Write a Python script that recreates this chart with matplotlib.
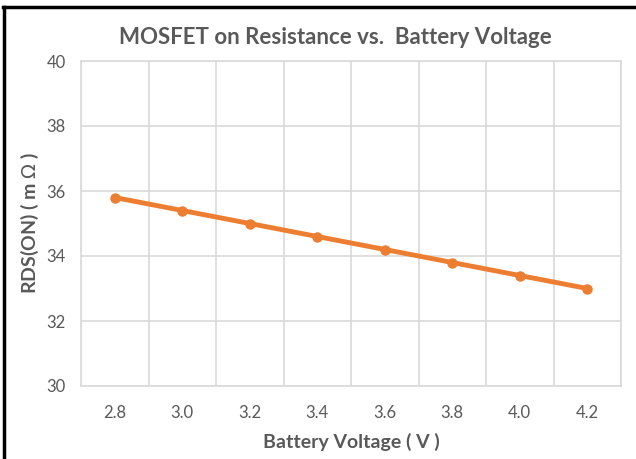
import matplotlib
matplotlib.use("Agg")
import matplotlib.pyplot as plt
from matplotlib.lines import Line2D

categories = ["2.8", "3.0", "3.2", "3.4", "3.6", "3.8", "4.0", "4.2"]
rds_on = [35.8, 35.4, 35.0, 34.6, 34.2, 33.8, 33.4, 33.0]
y_ticks = [30, 32, 34, 36, 38, 40]

plt.rcParams['font.family'] = ['Lato', 'DejaVu Sans']
W, H = 636, 459
fig = plt.figure(figsize=(W/100, H/100), dpi=100)
ax = fig.add_axes([81/W, (H-386)/H, (621-81)/W, (386-61)/H])

x = list(range(len(categories)))
ax.plot(x, rds_on, color='#ED7D31', lw=3.5, marker='o', ms=6.5, solid_capstyle='round', zorder=3)

ax.set_xlim(-0.5, len(categories)-0.5)
ax.set_ylim(30, 40)
ax.set_yticks(y_ticks)
ax.set_xticks(x)
ax.set_xticklabels(categories)
ax.set_xticks([i-0.5 for i in range(len(categories)+1)], minor=True)
ax.grid(False)
ax.yaxis.grid(True, color='#D9D9D9', lw=1.2)
ax.xaxis.grid(True, which='minor', color='#D9D9D9', lw=1.2)
ax.set_axisbelow(True)
for s in ax.spines.values():
    s.set_color('#D9D9D9')
    s.set_linewidth(1.2)
ax.tick_params(which='both', length=0, colors='#595959', labelsize=12)
ax.tick_params(axis='x', pad=14)
ax.tick_params(axis='y', pad=11)

ax.set_xlabel('Battery Voltage ( V )', fontsize=14, fontweight='bold', color='#595959', labelpad=8)
ax.set_ylabel('RDS(ON) ( m $\\Omega$ )', fontsize=14, fontweight='bold', color='#595959', labelpad=4)
fig.text(335/W, 1-37/H, 'MOSFET on Resistance vs.  Battery Voltage', ha='center', va='center',
         fontsize=16, fontweight='bold', color='#595959')

fig.add_artist(Line2D([4/W, 4/W], [0, 1-6.5/H], color='black', lw=2.5, transform=fig.transFigure))
fig.add_artist(Line2D([3/W, 1], [1-6.5/H, 1-6.5/H], color='black', lw=2.5, transform=fig.transFigure))

fig.savefig('out.png', dpi=100)
